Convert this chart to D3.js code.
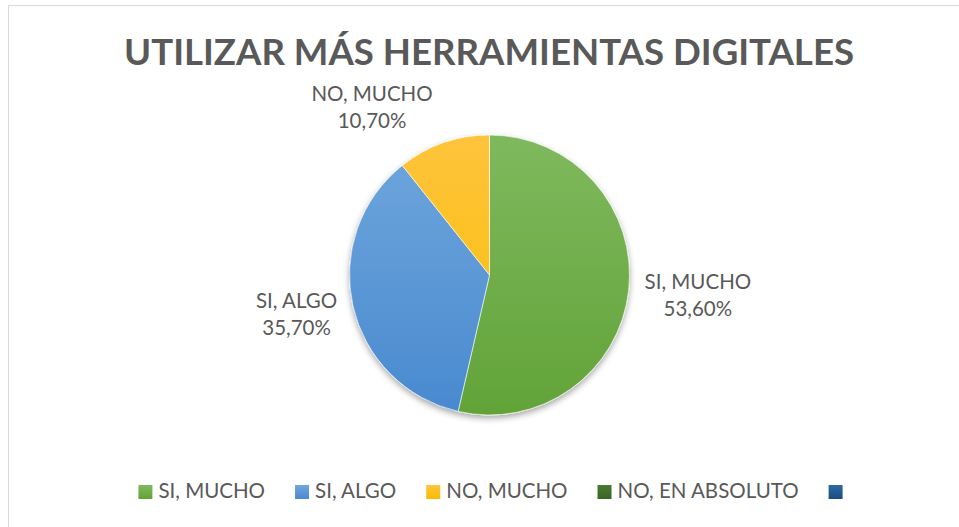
<!DOCTYPE html>
<html>
<head>
<meta charset="utf-8">
<script src="https://cdn.jsdelivr.net/npm/d3@7"></script>
<style>
  body { margin: 0; background: #fff; }
  svg { display: block; }
  text { font-family: Lato, "Noto Sans", sans-serif; fill: #595959; }
</style>
</head>
<body>
<script>
// data
const title = 'UTILIZAR MÁS HERRAMIENTAS DIGITALES';
const categories = ['SI, MUCHO', 'SI, ALGO', 'NO, MUCHO', 'NO, EN ABSOLUTO', ''];
const values = [53.6, 35.7, 10.7, 0, 0];

const width = 959;
const height = 527;
const cx = 489.5, cy = 275, radius = 140;

// office-like colours, light on top, dark on bottom
const topColors = ['#7fb95e', '#70a7dd', '#ffc43c', '#4b7a33', '#2c6aa3'];
const botColors = ['#62a338', '#4889cf', '#f8bd00', '#3b6525', '#1b4c82'];

const svg = d3.select('body').append('svg')
    .attr('width', width)
    .attr('height', height);

svg.append('rect')
    .attr('x', 8.5).attr('y', 5.5)
    .attr('width', width + 10).attr('height', height + 10)
    .attr('fill', '#fff')
    .attr('stroke', '#d9d9d9');

const defs = svg.append('defs');
categories.forEach(function (c, i) {
    const g = defs.append('linearGradient')
        .attr('id', 'grad' + i)
        .attr('gradientUnits', 'userSpaceOnUse')
        .attr('x1', 0).attr('x2', 0)
        .attr('y1', -radius).attr('y2', radius);
    g.append('stop').attr('offset', '0%').attr('stop-color', topColors[i]);
    g.append('stop').attr('offset', '100%').attr('stop-color', botColors[i]);
});
const shadow = defs.append('filter').attr('id', 'shadow')
    .attr('x', '-20%').attr('y', '-20%').attr('width', '140%').attr('height', '140%');
shadow.append('feDropShadow')
    .attr('dx', 0).attr('dy', 3).attr('stdDeviation', 3)
    .attr('flood-color', '#000').attr('flood-opacity', 0.35);

// title
svg.append('text')
    .attr('x', 489).attr('y', 65)
    .attr('text-anchor', 'middle')
    .attr('font-size', 36)
    .attr('font-weight', 'bold')
    .attr('textLength', 730)
    .attr('lengthAdjust', 'spacingAndGlyphs')
    .text(title);

const data = categories.map(function (c, i) { return {name: c, value: values[i], idx: i}; });

const pie = d3.pie()
    .sort(null)
    .value(function (d) { return d.value; });
const arcs = pie(data);

const arc = d3.arc().innerRadius(0).outerRadius(radius);

const pieG = svg.append('g')
    .attr('transform', 'translate(' + cx + ',' + cy + ')');

pieG.append('g')
    .attr('filter', 'url(#shadow)')
    .selectAll('path')
    .data(arcs.filter(function (d) { return d.value > 0; }))
    .enter()
    .append('path')
    .attr('d', arc)
    .attr('fill', function (d) { return 'url(#grad' + d.data.idx + ')'; })
    .attr('stroke', '#fff')
    .attr('stroke-width', 0.6);

// data labels, placed just outside the slice end
const fmt = function (v) { return v.toFixed(2).replace('.', ',') + '%'; };
const labelArc = d3.arc().innerRadius(radius + 8).outerRadius(radius + 8);

arcs.filter(function (d) { return d.value > 0; }).forEach(function (d) {
    const mid = (d.startAngle + d.endAngle) / 2;
    const p = labelArc.centroid(d);
    const s = Math.sin(mid), c = Math.cos(mid);
    const t = pieG.append('text')
        .attr('text-anchor', 'middle')
        .attr('font-size', 20.5);
    t.append('tspan').attr('x', 0).attr('dy', 0).text(d.data.name);
    t.append('tspan').attr('x', 0).attr('dy', 27).text(fmt(d.data.value));
    const w = t.node().getBBox().width;
    const x = p[0] + Math.sign(s) * (w / 2 + 8);
    const y = p[1] - c * 30;
    t.attr('transform', 'translate(' + x + ',' + (y - 6) + ')');
});

// legend
const legend = svg.append('g');
const sq = 14, gapText = 6, gapItem = 30;
let xPos = 0;
data.forEach(function (d) {
    const lg = defs.append('linearGradient')
        .attr('id', 'lgrad' + d.idx)
        .attr('x1', 0).attr('x2', 0).attr('y1', 0).attr('y2', 1);
    lg.append('stop').attr('offset', '0%').attr('stop-color', topColors[d.idx]);
    lg.append('stop').attr('offset', '100%').attr('stop-color', botColors[d.idx]);

    const g = legend.append('g');
    g.append('rect')
        .attr('x', 0).attr('y', -13)
        .attr('width', sq).attr('height', sq)
        .attr('fill', 'url(#lgrad' + d.idx + ')');
    const t = g.append('text')
        .attr('x', sq + gapText).attr('y', 0)
        .attr('font-size', 20.5)
        .text(d.name);
    const w = d.name ? t.node().getComputedTextLength() + gapText : 0;
    g.attr('transform', 'translate(' + xPos + ',0)');
    xPos += sq + w + gapItem;
});
const total = xPos - gapItem;
legend.attr('transform', 'translate(' + (490.5 - total / 2) + ',498)');
</script>
</body>
</html>
